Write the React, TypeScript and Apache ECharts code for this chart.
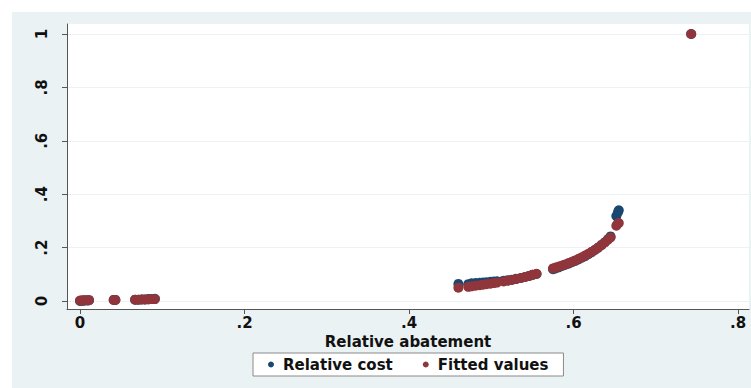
import React, { useEffect, useRef } from "react";
import * as echarts from "echarts";

// Relative abatement (x) with observed relative cost and exponential fitted values
const abatement = [
  0.0, 0.002, 0.004, 0.006, 0.009, 0.011, 0.041, 0.043, 0.067, 0.071, 0.075, 0.079, 0.083, 0.087, 0.091,
  0.46, 0.472, 0.476, 0.481, 0.486, 0.49, 0.494, 0.499, 0.503, 0.507, 0.515, 0.52, 0.525, 0.53, 0.536,
  0.541, 0.546, 0.55, 0.555, 0.575, 0.578, 0.582, 0.586, 0.59, 0.594, 0.598, 0.602, 0.606, 0.61, 0.614,
  0.618, 0.622, 0.626, 0.63, 0.634, 0.638, 0.642, 0.645, 0.652, 0.654, 0.655, 0.743,
];
const relativeCost = [
  0.0, 0.001, 0.001, 0.002, 0.002, 0.003, 0.004, 0.004, 0.005, 0.005, 0.006, 0.006, 0.007, 0.007, 0.008,
  0.064, 0.063, 0.066, 0.067, 0.068, 0.069, 0.07, 0.072, 0.073, 0.074, 0.076, 0.078, 0.08, 0.083, 0.086,
  0.09, 0.094, 0.098, 0.101, 0.119, 0.122, 0.126, 0.131, 0.136, 0.14, 0.145, 0.15, 0.156, 0.162, 0.168,
  0.175, 0.183, 0.191, 0.2, 0.21, 0.22, 0.232, 0.242, 0.318, 0.332, 0.34, 1.0,
];
const fittedValues = [
  0.002, 0.002, 0.003, 0.003, 0.003, 0.003, 0.004, 0.004, 0.005, 0.005, 0.006, 0.006, 0.006, 0.007, 0.007,
  0.05, 0.053, 0.055, 0.057, 0.059, 0.061, 0.063, 0.065, 0.067, 0.069, 0.073, 0.076, 0.079, 0.082, 0.086,
  0.09, 0.094, 0.098, 0.102, 0.122, 0.125, 0.129, 0.133, 0.137, 0.142, 0.147, 0.152, 0.158, 0.164, 0.17,
  0.177, 0.184, 0.192, 0.2, 0.209, 0.219, 0.23, 0.238, 0.282, 0.29, 0.292, 1.0,
];

const xTicks = [0, 0.2, 0.4, 0.6, 0.8];
const yTicks = [0, 0.2, 0.4, 0.6, 0.8, 1];

const fmt = (v: number) => {
  if (Math.abs(v) < 1e-9) return "0";
  if (Math.abs(v - 1) < 1e-9) return "1";
  return "." + Math.round(v * 10);
};

const FONT = "'DejaVu Sans', Verdana, sans-serif";
const TEXT = { fontFamily: FONT, fontWeight: "bold" as const, fontSize: 15, color: "#111" };

export default function App() {
  const ref = useRef<HTMLDivElement>(null);

  useEffect(() => {
    if (!ref.current) return;
    const chart = echarts.init(ref.current, null, { renderer: "svg" });
    const costPts = abatement.map((x, i) => [x, relativeCost[i]]);
    const fitPts = abatement.map((x, i) => [x, fittedValues[i]]);

    chart.setOption({
      animation: false,
      backgroundColor: "#ffffff",
      graphic: [
        {
          type: "rect",
          z: -10,
          silent: true,
          shape: { x: 12, y: 12, width: 739, height: 376 },
          style: { fill: "#eaf2f3" },
        },
      ],
      textStyle: { fontFamily: FONT },
      grid: {
        left: 67,
        top: 24,
        width: 682,
        height: 285,
        show: true,
        backgroundColor: "#ffffff",
        borderWidth: 0,
      },
      legend: {
        left: 253,
        top: 353,
        padding: [4, 15, 4, 15],
        backgroundColor: "#ffffff",
        borderColor: "#8a8a8a",
        borderWidth: 1,
        borderRadius: 0,
        itemGap: 30,
        itemWidth: 14,
        itemHeight: 6,
        icon: "circle",
        textStyle: { ...TEXT },
        data: ["Relative cost", "Fitted values"],
      },
      xAxis: {
        type: "value",
        min: -0.0158,
        max: 0.8133,
        name: "Relative abatement",
        nameLocation: "middle",
        nameGap: 21,
        nameTextStyle: { ...TEXT },
        axisLine: { show: true, onZero: false, lineStyle: { color: "#555", width: 1 } },
        axisTick: { show: true, length: 5, lineStyle: { color: "#555" }, customValues: xTicks },
        axisLabel: {
          customValues: xTicks,
          formatter: (v: number) => fmt(v),
          margin: 6,
          ...TEXT,
        },
        splitLine: { show: false },
      },
      yAxis: {
        type: "value",
        min: -0.03,
        max: 1.0375,
        axisLine: { show: true, onZero: false, lineStyle: { color: "#555", width: 1 } },
        axisTick: { show: true, length: 5, lineStyle: { color: "#555" }, customValues: yTicks },
        axisLabel: {
          customValues: yTicks,
          formatter: (v: number) => fmt(v),
          rotate: 90,
          margin: 18,
          ...TEXT,
        },
        splitLine: { show: true, lineStyle: { color: "#eaf2f3", width: 1 } },
      },
      series: [
        {
          name: "Relative cost",
          type: "scatter",
          data: costPts,
          symbol: "circle",
          symbolSize: 10,
          itemStyle: { color: "#1a476f", opacity: 1 },
          z: 2,
        },
        {
          name: "Fitted values",
          type: "scatter",
          data: fitPts,
          symbol: "circle",
          symbolSize: 10,
          itemStyle: { color: "#90353b", opacity: 1 },
          z: 3,
        },
      ],
    });
    return () => chart.dispose();
  }, []);

  return (
    <div
      ref={ref}
      style={{ position: "fixed", left: 0, top: 0, width: 751, height: 388 }}
    />
  );
}
